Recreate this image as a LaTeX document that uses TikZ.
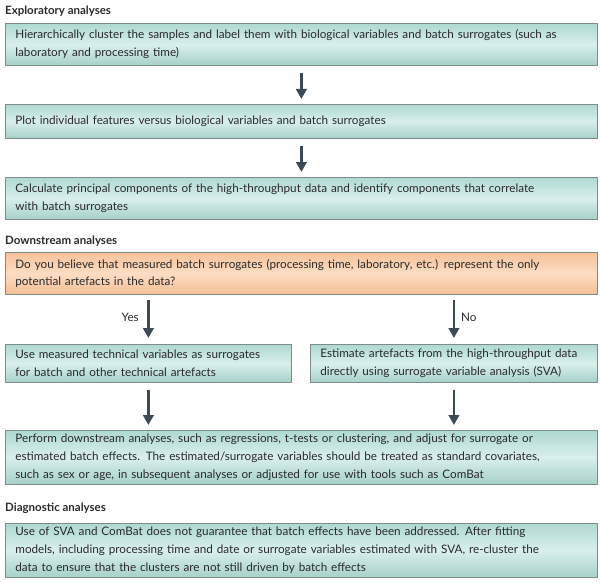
\documentclass[tikz,border=0pt]{standalone}
\usepackage{fontspec}
\setmainfont{Lato}
\usetikzlibrary{arrows.meta}
\definecolor{tealA}{HTML}{AED9D1}
\definecolor{tealM}{HTML}{D9EFEB}
\definecolor{tealB}{HTML}{A6D1C9}
\definecolor{orA}{HTML}{F6C29A}
\definecolor{orM}{HTML}{FCDDC4}
\definecolor{orB}{HTML}{F4BE94}
\definecolor{boxline}{HTML}{7F8C8A}
\definecolor{arrowc}{HTML}{3C4A56}
\definecolor{txt}{HTML}{2A2A2A}
\tikzset{
  basebox/.style={draw=boxline, line width=0.8pt, align=left, anchor=north west,
    inner xsep=10pt, inner ysep=2pt, text=txt,
    font=\fontsize{11.7}{17.8}\selectfont},
  tbox/.style={basebox, top color=tealA, bottom color=tealB, middle color=tealM},
  obox/.style={basebox, top color=orA, bottom color=orB, middle color=orM},
  heading/.style={anchor=west, inner sep=0pt, text=txt, font=\fontsize{11.5}{13}\selectfont\bfseries},
  flow/.style={draw=arrowc, line width=2.8pt, -{Triangle[width=10.5pt,length=10pt]}},
  lbl/.style={inner sep=0pt, text=txt, font=\fontsize{11.7}{13}\selectfont}
}
\begin{document}
\begin{tikzpicture}[x=1pt,y=-1pt]
\useasboundingbox (0,0) rectangle (602,583);
\node[heading] (h1) at (5,11) {Exploratory analyses};
\node[tbox, minimum width=592, minimum height=42, text width=572] (b1) at (5,23)
  {Hierarchically cluster the samples and label them with biological variables and batch surrogates (such as\\ laboratory and processing time)};
\node[tbox, minimum width=592, minimum height=34, text width=572] (b2) at (5,104)
  {Plot individual features versus biological variables and batch surrogates};
\node[tbox, minimum width=592, minimum height=42, text width=572] (b3) at (5,177)
  {Calculate principal components of the high-throughput data and identify components that correlate\\ with batch surrogates};
\node[heading] (h2) at (5,241) {Downstream analyses};
\node[obox, minimum width=592, minimum height=42, text width=572] (q) at (5,252)
  {Do you believe that measured batch surrogates (processing time, laboratory, etc.) represent the only\\ potential artefacts in the data?};
\node[tbox, minimum width=286, minimum height=38, text width=266] (l) at (5,344)
  {Use measured technical variables as surrogates\\ for batch and other technical artefacts};
\node[tbox, minimum width=287, minimum height=38, text width=267] (r) at (310,344)
  {Estimate artefacts from the high-throughput data\\ directly using surrogate variable analysis (SVA)};
\node[tbox, minimum width=592, minimum height=54, text width=572] (m) at (5,430)
  {Perform downstream analyses, such as regressions, t-tests or clustering, and adjust for surrogate or\\ estimated batch effects. The estimated/surrogate variables should be treated as standard covariates,\\ such as sex or age, in subsequent analyses or adjusted for use with tools such as ComBat};
\node[heading] (h3) at (5,508) {Diagnostic analyses};
\node[tbox, minimum width=592, minimum height=54, text width=572] (d) at (5,523)
  {Use of SVA and ComBat does not guarantee that batch effects have been addressed. After fitting\\ models, including processing time and date or surrogate variables estimated with SVA, re-cluster the\\ data to ensure that the clusters are not still driven by batch effects};
\draw[flow, shorten <=7pt, shorten >=5pt] (b1.south) -- (b2.north);
\draw[flow, shorten <=7pt, shorten >=5pt] (b2.south) -- (b3.north);
\draw[flow, shorten <=5pt, shorten >=6pt] (q.south -| l.north) -- (l.north);
\draw[flow, shorten <=5pt, shorten >=6pt] (q.south -| r.north) -- (r.north);
\draw[flow, shorten <=7pt, shorten >=5pt] (l.south) -- (m.north -| l.south);
\draw[flow, shorten <=7pt, shorten >=5pt] (r.south) -- (m.north -| r.south);
\node[lbl, anchor=east] (yes) at (139,317) {Yes};
\node[lbl, anchor=west] (no) at (461,317) {No};
\end{tikzpicture}
\end{document}
